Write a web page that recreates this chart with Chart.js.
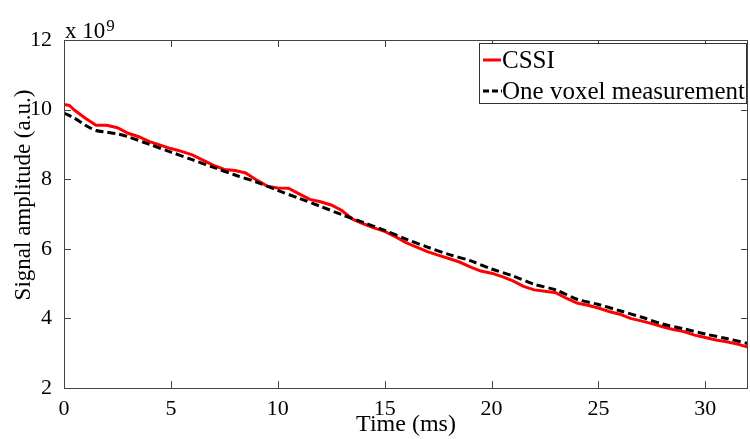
<!DOCTYPE html>
<html>
<head>
<meta charset="utf-8">
<script src="https://cdn.jsdelivr.net/npm/chart.js@4"></script>
<style>
  html, body { margin: 0; padding: 0; background: #fff; }
  #wrap { width: 750px; height: 439px; }
</style>
</head>
<body>
<div id="wrap"><canvas id="signal"></canvas></div>
<script>
// time axis (ms) and signal amplitude (x 10^9)
var cssiTime = [0, 0.25, 0.5, 1, 1.5, 2, 2.5, 3, 3.5, 4, 4.5, 5, 5.5, 6, 6.5, 7, 7.5, 8, 8.5, 9, 9.5,
  10, 10.5, 11, 11.5, 12, 12.5, 13, 13.5, 14, 14.5, 15, 15.5, 16, 16.5, 17, 17.5, 18, 18.5, 19, 19.5,
  20, 20.5, 21, 21.5, 22, 22.5, 23, 23.5, 24, 24.5, 25, 25.5, 26, 26.5, 27, 27.5, 28, 28.5, 29, 29.5,
  30, 30.5, 31, 31.5, 32];
var cssiValues = [10.15, 10.12, 9.98, 9.75, 9.55, 9.55, 9.48, 9.32, 9.22, 9.08, 8.98, 8.88, 8.80, 8.70, 8.55, 8.40, 8.28, 8.25, 8.18, 7.98, 7.80,
  7.75, 7.74, 7.58, 7.42, 7.35, 7.26, 7.10, 6.85, 6.72, 6.60, 6.50, 6.35, 6.18, 6.05, 5.92, 5.82, 5.72, 5.62, 5.48, 5.36,
  5.30, 5.20, 5.08, 4.92, 4.82, 4.78, 4.74, 4.58, 4.44, 4.38, 4.30, 4.20, 4.12, 4.00, 3.93, 3.85, 3.76, 3.68, 3.62, 3.52,
  3.45, 3.38, 3.33, 3.26, 3.18];

var voxelTime = [0, 0.5, 1, 1.5, 2, 2.5, 3, 4, 5, 6, 7, 8, 9, 10, 11, 12, 13, 14, 15, 16,
  17, 18, 19, 20, 21, 22, 23, 24, 25, 26, 27, 28, 29, 30, 31, 32];
var voxelValues = [9.90, 9.75, 9.55, 9.40, 9.35, 9.30, 9.22, 9.00, 8.78, 8.56, 8.34, 8.12, 7.92, 7.68, 7.45, 7.22, 6.98, 6.76, 6.53, 6.28,
  6.05, 5.84, 5.66, 5.42, 5.22, 4.98, 4.82, 4.55, 4.40, 4.22, 4.04, 3.84, 3.70, 3.55, 3.42, 3.28];

var seriesLabels = ['CSSI', 'One voxel measurement'];
var xTicks = [0, 5, 10, 15, 20, 25, 30];
var yTicks = [2, 4, 6, 8, 10, 12];

var serif = '"Liberation Serif", "Times New Roman", serif';

function toPoints(xs, ys) {
  return xs.map(function (x, i) { return { x: x, y: ys[i] }; });
}

// MATLAB style box with inward ticks, y title, exponent label and legend
var boxPlugin = {
  id: 'matlabBox',
  afterDraw: function (chart) {
    var c = chart.ctx, a = chart.chartArea;
    var xs = chart.scales.x, ys = chart.scales.y;
    c.save();
    c.strokeStyle = '#444';
    c.lineWidth = 1;
    c.strokeRect(a.left + 0.5, a.top + 0.5, a.right - a.left - 1, a.bottom - a.top);
    c.beginPath();
    xTicks.forEach(function (t) {
      var px = Math.round(xs.getPixelForValue(t)) + 0.5;
      c.moveTo(px, a.bottom); c.lineTo(px, a.bottom - 7);
      c.moveTo(px, a.top); c.lineTo(px, a.top + 7);
    });
    yTicks.forEach(function (t) {
      var py = Math.round(ys.getPixelForValue(t)) + 0.5;
      c.moveTo(a.left, py); c.lineTo(a.left + 7, py);
      c.moveTo(a.right, py); c.lineTo(a.right - 7, py);
    });
    c.stroke();

    // y title
    c.fillStyle = '#000';
    c.save();
    c.translate(30, 195);
    c.rotate(-Math.PI / 2);
    c.font = '23px ' + serif;
    c.textAlign = 'center';
    c.textBaseline = 'alphabetic';
    c.fillText('Signal amplitude (a.u.)', 0, 0);
    c.restore();

    // exponent
    c.textBaseline = 'alphabetic';
    c.font = '23px ' + serif;
    c.fillText('x 10', a.left + 1, a.top - 2);
    var w = c.measureText('x 10').width;
    c.font = '17px ' + serif;
    c.fillText('9', a.left + 2 + w, a.top - 9);

    // legend
    var lx = 479, ly = 43, lw = 267, lh = 60;
    c.fillStyle = '#fff';
    c.fillRect(lx, ly, lw, lh);
    c.strokeStyle = '#333';
    c.strokeRect(lx + 0.5, ly + 0.5, lw, lh);
    c.lineWidth = 3;
    c.strokeStyle = '#ff0000';
    c.beginPath(); c.moveTo(483, 60); c.lineTo(501, 60); c.stroke();
    c.strokeStyle = '#000';
    c.setLineDash([6, 3]);
    c.beginPath(); c.moveTo(483, 91); c.lineTo(502, 91); c.stroke();
    c.setLineDash([]);
    c.fillStyle = '#000';
    c.font = '25px ' + serif;
    c.textBaseline = 'middle';
    c.fillText(seriesLabels[0], 502, 61);
    c.fillText(seriesLabels[1], 502, 92);
    c.restore();
  }
};

var ctx = document.getElementById('signal').getContext('2d');
var signalChart = new Chart(ctx, {
  type: 'line',
  data: {
    datasets: [{
      label: seriesLabels[0],
      data: toPoints(cssiTime, cssiValues),
      borderColor: '#ff0000',
      borderWidth: 3,
      pointRadius: 0,
      tension: 0,
      fill: false,
      order: 2
    }, {
      label: seriesLabels[1],
      data: toPoints(voxelTime, voxelValues),
      borderColor: '#000000',
      borderWidth: 3,
      borderDash: [8, 4],
      pointRadius: 0,
      tension: 0.3,
      fill: false,
      order: 1
    }]
  },
  options: {
    responsive: true,
    maintainAspectRatio: false,
    animation: false,
    layout: { padding: { top: 40, right: 2, left: 0, bottom: 0 } },
    plugins: {
      legend: { display: false },
      tooltip: { enabled: false }
    },
    scales: {
      x: {
        type: 'linear',
        min: 0,
        max: 32,
        grid: { display: false },
        border: { display: false },
        afterBuildTicks: function (s) { s.ticks = xTicks.map(function (v) { return { value: v }; }); },
        ticks: { color: '#000', font: { family: serif, size: 22 }, padding: 0, maxRotation: 0 },
        title: { display: true, text: 'Time (ms)', color: '#000', font: { family: serif, size: 24 }, padding: { top: 0, bottom: 0 } },
        afterFit: function (s) { s.height = 51; }
      },
      y: {
        min: 2,
        max: 12,
        grid: { display: false },
        border: { display: false },
        afterBuildTicks: function (s) { s.ticks = yTicks.map(function (v) { return { value: v }; }); },
        ticks: { color: '#000', font: { family: serif, size: 22 }, padding: 4 },
        afterFit: function (s) { s.width = 64; }
      }
    }
  },
  plugins: [boxPlugin]
});
</script>
</body>
</html>
